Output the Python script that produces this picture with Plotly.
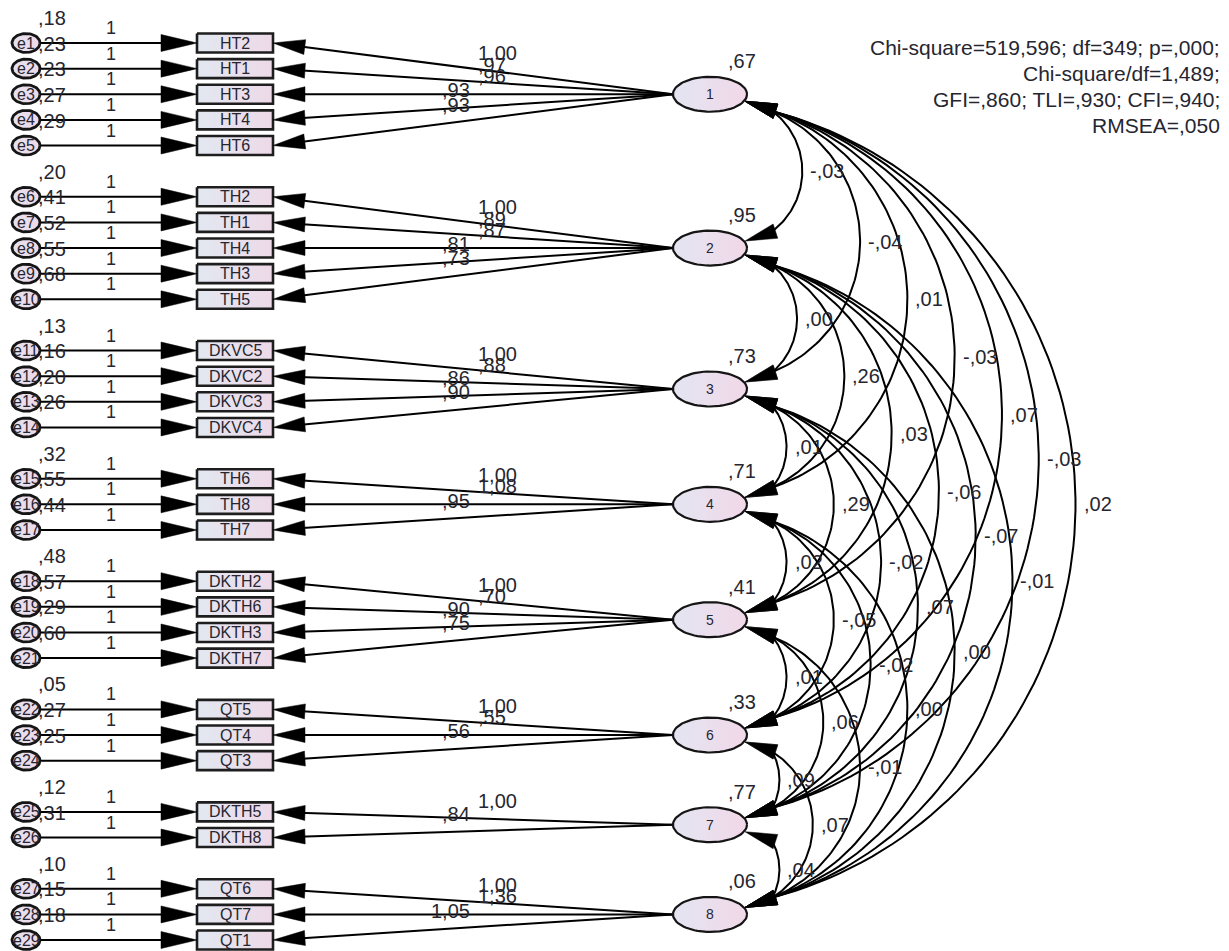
import numpy as np
import plotly.graph_objects as go

# ---------------- model values ----------------
factors = ["1", "2", "3", "4", "5", "6", "7", "8"]

indicators = ["HT2", "HT1", "HT3", "HT4", "HT6",
              "TH2", "TH1", "TH4", "TH3", "TH5",
              "DKVC5", "DKVC2", "DKVC3", "DKVC4",
              "TH6", "TH8", "TH7",
              "DKTH2", "DKTH6", "DKTH3", "DKTH7",
              "QT5", "QT4", "QT3",
              "DKTH5", "DKTH8",
              "QT6", "QT7", "QT1"]
indicator_factor = [0] * 5 + [1] * 5 + [2] * 4 + [3] * 3 + [4] * 4 + [5] * 3 + [6] * 2 + [7] * 3

loadings = [1.00, 0.97, 0.96, 0.93, 0.93,
            1.00, 0.89, 0.87, 0.81, 0.73,
            1.00, 0.88, 0.86, 0.90,
            1.00, 1.08, 0.95,
            1.00, 0.70, 0.90, 0.75,
            1.00, 0.55, 0.56,
            1.00, 0.84,
            1.00, 1.36, 1.05]

error_names = ["e%d" % (i + 1) for i in range(29)]
error_variances = [0.18, 0.23, 0.23, 0.27, 0.29,
                   0.20, 0.41, 0.52, 0.55, 0.68,
                   0.13, 0.16, 0.20, 0.26,
                   0.32, 0.55, 0.44,
                   0.48, 0.57, 0.29, 0.60,
                   0.05, 0.27, 0.25,
                   0.12, 0.31,
                   0.10, 0.15, 0.18]
error_paths = [1] * 29

factor_variances = [0.67, 0.95, 0.73, 0.71, 0.41, 0.33, 0.77, 0.06]

cov_from = [0, 0, 0, 0, 0, 0, 0, 1, 1, 1, 1, 1, 1, 2, 2, 2, 2, 2, 3, 3, 3, 3, 4, 4, 4, 5, 5, 6]
cov_to = [1, 2, 3, 4, 5, 6, 7, 2, 3, 4, 5, 6, 7, 3, 4, 5, 6, 7, 4, 5, 6, 7, 5, 6, 7, 6, 7, 7]
cov_values = [-0.03, -0.04, 0.01, -0.03, 0.07, -0.03, 0.02,
              0.00, 0.26, 0.03, -0.06, -0.07, -0.01,
              0.01, 0.29, -0.02, 0.07, 0.00,
              0.02, -0.05, -0.02, 0.00,
              0.01, 0.06, -0.01,
              0.09, 0.07,
              0.04]

fit_lines = ["Chi-square=519,596; df=349; p=,000;",
             "Chi-square/df=1,489;",
             "GFI=,860; TLI=,930; CFI=,940;",
             "RMSEA=,050"]


def amos(v):
    """Format a number the way the path diagram prints it: ,18  1,00  -,03"""
    s = "%.2f" % v
    neg = s.startswith("-")
    s = s.lstrip("-")
    if s.startswith("0"):
        s = s[1:]
    return ("-" if neg else "") + s.replace(".", ",")


# ---------------- layout geometry ----------------
W, H = 1229, 951
FONT = "Liberation Sans, Arial, sans-serif"
TXT = "#262630"

ROW0, STEP = 43.0, 25.63
ERR_X, ERR_RX, ERR_RY = 26.0, 14.0, 9.5
RECT_X0, RECT_X1, RECT_H = 197.0, 273.0, 19.0
LAT_X, LAT_RX, LAT_RY = 710.0, 37.0, 17.5

row_y = [ROW0 + STEP * (k + g) for k, g in enumerate(indicator_factor)]
factor_y = [float(np.mean([row_y[k] for k in range(len(row_y)) if indicator_factor[k] == g]))
            for g in range(len(factors))]

line_x, line_y = [], []
head_x, head_y = [], []
annotations = []


def seg(x0, y0, x1, y1):
    line_x.extend([x0, x1, None])
    line_y.extend([y0, y1, None])


def head(tx, ty, ux, uy, L, Wd):
    n = np.hypot(ux, uy)
    ux, uy = ux / n, uy / n
    bx, by = tx + L * ux, ty + L * uy
    px, py = -uy * Wd / 2, ux * Wd / 2
    head_x.extend([tx, bx + px, bx - px, tx, None])
    head_y.extend([ty, by + py, by - py, ty, None])


def label(x, y, text, size, anchor="center"):
    annotations.append(dict(x=x, y=y, xref="x", yref="y", text=text, showarrow=False,
                            xanchor=anchor, yanchor="middle",
                            font=dict(family=FONT, size=size, color=TXT)))


# error terms -> indicators
for k, ry in enumerate(row_y):
    seg(ERR_X + ERR_RX, ry, RECT_X0 - 20, ry)
    head(RECT_X0, ry, -1, 0, 36, 17)
    label(111, ry - 15, str(error_paths[k]), 18)
    label(36, ry - 25, amos(error_variances[k]), 20, "left")
    label(ERR_X, ry, error_names[k], 16)

# factors -> indicators
for k, ry in enumerate(row_y):
    fy = factor_y[indicator_factor[k]]
    x_start = LAT_X - LAT_RX
    seg(x_start, fy, RECT_X1 + 10, ry + (fy - ry) * 10 / (x_start - RECT_X1))
    head(RECT_X1, ry, x_start - RECT_X1, fy - ry, 32, 15)
    if ry <= fy + 0.5:
        xl = 495.0
        yl = ry + (fy - ry) * (xl - RECT_X1) / (x_start - RECT_X1) - 18
        label(476, yl, amos(loadings[k]), 20, "left")
    else:
        xl = 452.0
        yl = ry + (fy - ry) * (xl - RECT_X1) / (x_start - RECT_X1) - 18
        label(472, yl, amos(loadings[k]), 20, "right")
    label((RECT_X0 + RECT_X1) / 2, ry, indicators[k], 16)

# factor variances and names
for g, fy in enumerate(factor_y):
    label(726, fy - 33, amos(factor_variances[g]), 20, "left")
    label(LAT_X, fy, factors[g], 14)

# covariance arcs
TIP_X, TIP_DY = 745.0, 7.0
AH_L, AH_W, AH_ANG = 32.0, 15.0, np.radians(18)
BULGE, MIN_SAG = 0.41, 7.0
ca, sa = np.cos(AH_ANG), np.sin(AH_ANG)
for a, b, v in zip(cov_from, cov_to, cov_values):
    ya, yb = factor_y[a], factor_y[b]
    t1y, t2y = ya + TIP_DY, yb - TIP_DY
    head(TIP_X, t1y, ca, sa, AH_L, AH_W)
    head(TIP_X, t2y, ca, -sa, AH_L, AH_W)
    bx = TIP_X + AH_L * ca - 3
    b1y, b2y = t1y + AH_L * sa, t2y - AH_L * sa
    px = max(TIP_X + BULGE * (yb - ya - 2 * TIP_DY), bx + MIN_SAG)
    my = (ya + yb) / 2
    s = px - bx
    h = (b2y - b1y) / 2
    R = (h * h + s * s) / (2 * s)
    cx = px - R
    phi = np.arctan2(h, R - s)
    th = np.linspace(-phi, phi, 90)
    line_x.extend(list(cx + R * np.cos(th)) + [None])
    line_y.extend(list(my + R * np.sin(th)) + [None])
    label(px + 6, my, amos(v), 20, "left")

# fit statistics
for i, t in enumerate(fit_lines):
    label(1222, 47 + 26.3 * i, t, 21, "right")

# ---------------- shapes as filled traces ----------------
def ellipse_pts(cx, cy, rx, ry, n=72):
    t = np.linspace(0, 2 * np.pi, n + 1)
    return list(cx + rx * np.cos(t)) + [None], list(cy + ry * np.sin(t)) + [None]


ex, ey = [], []
for ry in row_y:
    px_, py_ = ellipse_pts(ERR_X, ry, ERR_RX, ERR_RY)
    ex += px_
    ey += py_

rx_, ry_ = [], []
for ry in row_y:
    rx_ += [RECT_X0, RECT_X1, RECT_X1, RECT_X0, RECT_X0, None]
    ry_ += [ry - RECT_H / 2, ry - RECT_H / 2, ry + RECT_H / 2, ry + RECT_H / 2, ry - RECT_H / 2, None]

lx_, ly_ = [], []
for fy in factor_y:
    px_, py_ = ellipse_pts(LAT_X, fy, LAT_RX, LAT_RY)
    lx_ += px_
    ly_ += py_

fig = go.Figure()
fig.add_trace(go.Scatter(x=line_x, y=line_y, mode="lines",
                         line=dict(color="#000000", width=2), hoverinfo="skip"))
fig.add_trace(go.Scatter(x=ex, y=ey, mode="lines", fill="toself",
                         fillgradient=dict(type="horizontal",
                                           colorscale=[[0, "#e4e2ef"], [1, "#f0d9e8"]]),
                         line=dict(color="#151515", width=2.8), hoverinfo="skip"))
fig.add_trace(go.Scatter(x=rx_, y=ry_, mode="lines", fill="toself",
                         fillgradient=dict(type="horizontal",
                                           colorscale=[[0, "#e2e8f1"], [1, "#eed9e8"]]),
                         line=dict(color="#1e1e1e", width=2.6), hoverinfo="skip"))
fig.add_trace(go.Scatter(x=lx_, y=ly_, mode="lines", fill="toself",
                         fillgradient=dict(type="horizontal",
                                           colorscale=[[0, "#e4e5f2"], [1, "#f1d8e8"]]),
                         line=dict(color="#151515", width=2.2), hoverinfo="skip"))
fig.add_trace(go.Scatter(x=head_x, y=head_y, mode="lines", fill="toself",
                         fillcolor="#000000", line=dict(color="#000000", width=0.5),
                         hoverinfo="skip"))

fig.update_layout(
    width=W, height=H,
    margin=dict(l=0, r=0, t=0, b=0),
    paper_bgcolor="white", plot_bgcolor="white",
    showlegend=False,
    xaxis=dict(range=[0, W], visible=False, fixedrange=True),
    yaxis=dict(range=[H, 0], visible=False, fixedrange=True),
    annotations=annotations,
)

fig.write_html("out.html", config={"displayModeBar": False})
